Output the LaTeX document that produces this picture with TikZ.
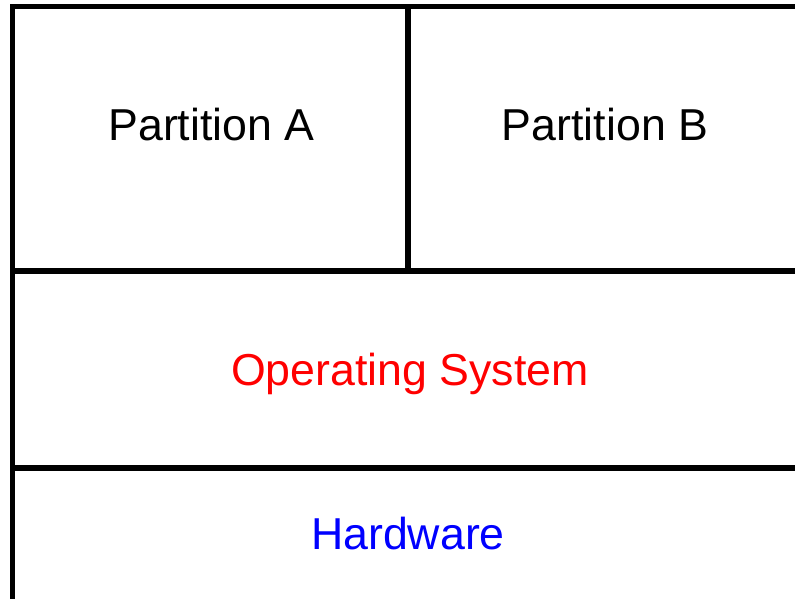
\documentclass[tikz,border=0pt]{standalone}
\usepackage{fontspec}
\setmainfont{Liberation Sans}
\begin{document}
\begin{tikzpicture}[x=1pt,y=-1pt,
  rule/.style={line width=5.5pt,black},
  label/.style={anchor=base,font=\fontsize{44.7}{50}\selectfont,inner sep=0pt}]
\useasboundingbox (0,0) rectangle (795,598);
\clip (0,0) rectangle (795,598);
% frame of the layer stack (right and bottom edges run off the page)
\draw[rule,miter limit=10] (12.5,700) -- (12.5,6.5) -- (900,6.5);
\draw[rule] (408,6.5) -- (408,271);
\draw[rule] (12.5,271) -- (900,271);
\draw[rule] (12.5,468) -- (900,468);
% layer labels
\node[label] (pa) at (211.5,140) {Partition A};
\node[label] (pb) at (605,140) {Partition B};
\node[label,text={rgb,255:red,255;green,0;blue,0}] (os) at (410,385.5) {Operating System};
\node[label,text={rgb,255:red,0;green,0;blue,255}] (hw) at (408,549) {Hardware};
\end{tikzpicture}
\end{document}
